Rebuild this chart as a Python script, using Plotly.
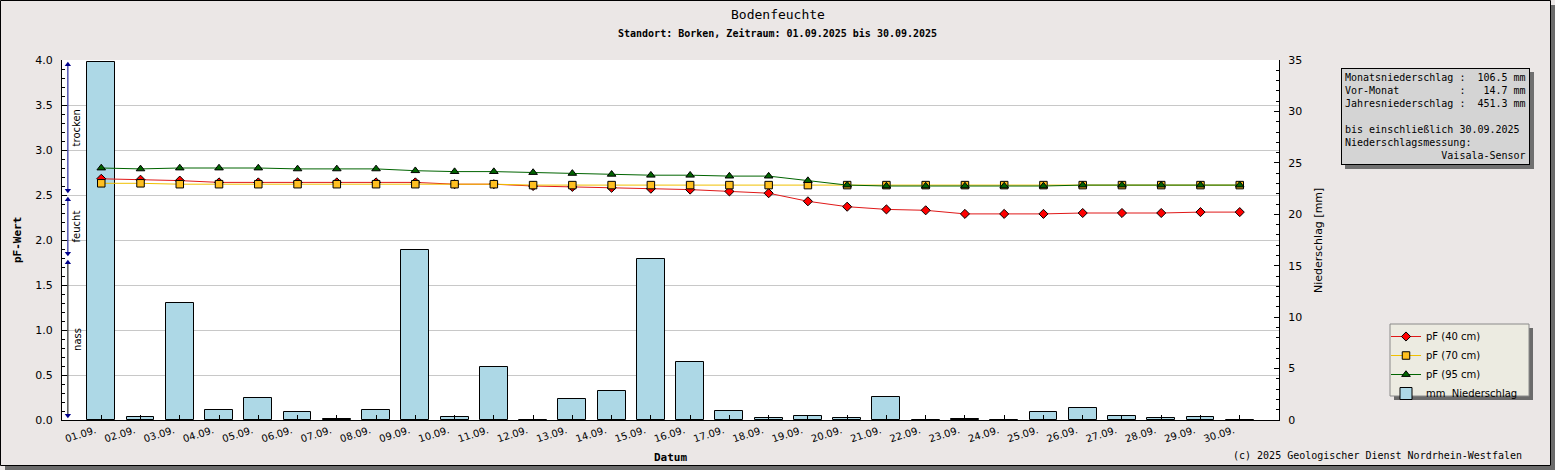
import plotly.graph_objects as go

# ---------------- data ----------------
days = list(range(1, 31))
date_labels = [f"{d:02d}.09." for d in days]

pf_40 = [2.68, 2.67, 2.66, 2.64, 2.64, 2.64, 2.64, 2.64, 2.64, 2.62,
         2.62, 2.60, 2.59, 2.58, 2.57, 2.56, 2.54, 2.52, 2.43, 2.37,
         2.34, 2.33, 2.29, 2.29, 2.29, 2.30, 2.30, 2.30, 2.31, 2.31]
pf_70 = [2.63, 2.63, 2.62, 2.62, 2.62, 2.62, 2.62, 2.62, 2.62, 2.62,
         2.62, 2.61, 2.61, 2.61, 2.61, 2.61, 2.61, 2.61, 2.61, 2.61,
         2.61, 2.61, 2.61, 2.61, 2.61, 2.61, 2.61, 2.61, 2.61, 2.61]
pf_95 = [2.80, 2.79, 2.80, 2.80, 2.80, 2.79, 2.79, 2.79, 2.77, 2.76,
         2.76, 2.75, 2.74, 2.73, 2.72, 2.72, 2.71, 2.71, 2.66, 2.61,
         2.60, 2.60, 2.60, 2.60, 2.60, 2.61, 2.61, 2.61, 2.61, 2.61]
rain_mm = [34.8, 0.3, 11.4, 1.0, 2.1, 0.8, 0.1, 1.0, 16.5, 0.3,
           5.2, 0.0, 2.0, 2.8, 15.7, 5.6, 0.9, 0.2, 0.4, 0.2,
           2.2, 0.0, 0.1, 0.0, 0.8, 1.2, 0.4, 0.2, 0.3, 0.0]

series_names = ["pF (40 cm)", "pF (70 cm)", "pF (95 cm)"]
rain_name = "mm\u00a0\u00a0Niederschlag"

zone_names = ["trocken", "feucht", "nass"]
zone_lo = [2.5, 1.8, 0.0]
zone_hi = [4.0, 2.5, 1.8]

info_lines = [
    "Monatsniederschlag :  106.5 mm",
    "Vor-Monat          :   14.7 mm",
    "Jahresniederschlag :  451.3 mm",
    "",
    "bis einschließlich 30.09.2025",
    "Niederschlagsmessung:",
    "                Vaisala-Sensor",
]

title_text = "Bodenfeuchte"
subtitle_text = "Standort: Borken, Zeitraum: 01.09.2025 bis 30.09.2025"
copyright_text = "(c) 2025 Geologischer Dienst Nordrhein-Westfalen"

# ---------------- layout geometry ----------------
W, H = 1555, 470
L, R, T, B = 62, 276, 60, 50
PW = W - L - R
PH = H - T - B


def px(x):
    return (x - L) / PW


def py(y):
    return (H - B - y) / PH


BG = "#ebe7e6"
MONO = "DejaVu Sans Mono"
SANS = "DejaVu Sans"

fig = go.Figure()
annotations = []

# precipitation bars (primary y, drawn underneath)
fig.add_trace(go.Bar(
    x=days, y=rain_mm, name=rain_name, yaxis="y",
    width=0.71,
    marker=dict(color="#add8e6", line=dict(color="#000000", width=1)),
    legendrank=4,
))

line_styles = [
    dict(line="#e01818", fill="#ff0000", symbol="diamond", size=7),
    dict(line="#f0c000", fill="#ffc020", symbol="square", size=7.5),
    dict(line="#006400", fill="#006400", symbol="triangle-up", size=7.5),
]
for i, (name, vals, st) in enumerate(zip(series_names, [pf_40, pf_70, pf_95], line_styles)):
    fig.add_trace(go.Scatter(
        x=days, y=vals, name=name, yaxis="y2", mode="lines+markers",
        line=dict(color=st["line"], width=1),
        marker=dict(symbol=st["symbol"], size=st["size"], color=st["fill"],
                    line=dict(color="#000000", width=1)),
        legendrank=i + 1, cliponaxis=False,
    ))

# moisture zones on the left
zone_x = 0.15
for name, lo, hi in zip(zone_names, zone_lo, zone_hi):
    lc = "#000000" if name == "nass" else "#00008b"
    fig.add_trace(go.Scatter(
        x=[zone_x, zone_x], y=[lo + 0.05, hi - 0.05], yaxis="y2",
        mode="lines+markers", showlegend=False, hoverinfo="skip",
        line=dict(color=lc, width=1),
        marker=dict(symbol=["triangle-down", "triangle-up"], size=5.5, color="#00008b"),
        cliponaxis=False,
    ))
    annotations.append(dict(x=0.38, y=(lo + hi) / 2, xref="x", yref="y2",
                            text=name, textangle=-90, showarrow=False,
                            font=dict(family=SANS, size=10, color="#000000")))

shapes = []
# outer frame shadow + border
shapes.append(dict(type="rect", xref="paper", yref="paper", layer="below",
                   x0=px(1551), x1=px(1556), y0=py(5), y1=py(471),
                   fillcolor="#6b6b6b", line=dict(width=0)))
shapes.append(dict(type="rect", xref="paper", yref="paper", layer="below",
                   x0=px(5), x1=px(1556), y0=py(466), y1=py(471),
                   fillcolor="#6b6b6b", line=dict(width=0)))
shapes.append(dict(type="rect", xref="paper", yref="paper", layer="below",
                   x0=px(0.5), x1=px(1550.5), y0=py(0.5), y1=py(465.5),
                   fillcolor="rgba(0,0,0,0)", line=dict(color="#000000", width=1)))
# info box shadow
shapes.append(dict(type="rect", xref="paper", yref="paper", layer="below",
                   x0=px(1345), x1=px(1534), y0=py(72), y1=py(169),
                   fillcolor="#707070", line=dict(width=0)))
# legend box shadow + box
shapes.append(dict(type="rect", xref="paper", yref="paper", layer="below",
                   x0=px(1394), x1=px(1533), y0=py(328), y1=py(400),
                   fillcolor="#6b6b6b", line=dict(width=0)))
shapes.append(dict(type="rect", xref="paper", yref="paper", layer="below",
                   x0=px(1390), x1=px(1529), y0=py(324), y1=py(396),
                   fillcolor="#ecebe1", line=dict(color="#8a8a8a", width=1)))

annotations += [
    dict(x=px(777.5), y=py(14), xref="paper", yref="paper", text=title_text,
         showarrow=False, xanchor="center", yanchor="middle",
         font=dict(family=MONO, size=13, color="#000000")),
    dict(x=px(777.5), y=py(33), xref="paper", yref="paper", text="<b>" + subtitle_text + "</b>",
         showarrow=False, xanchor="center", yanchor="middle",
         font=dict(family=MONO, size=10, color="#000000")),
    dict(x=px(17), y=py(240), xref="paper", yref="paper", text="<b>pF-Wert</b>",
         textangle=-90, showarrow=False, xanchor="center", yanchor="middle",
         font=dict(family=MONO, size=11, color="#000000")),
    dict(x=px(1318), y=py(241), xref="paper", yref="paper", text="Niederschlag [mm]",
         textangle=-90, showarrow=False, xanchor="center", yanchor="middle",
         font=dict(family=SANS, size=11, color="#000000")),
    dict(x=px(670), y=py(457), xref="paper", yref="paper", text="<b>Datum</b>",
         showarrow=False, xanchor="center", yanchor="middle",
         font=dict(family=MONO, size=11, color="#000000")),
    dict(x=px(1524), y=py(455), xref="paper", yref="paper", text=copyright_text,
         showarrow=False, xanchor="right", yanchor="middle",
         font=dict(family=MONO, size=10, color="#000000")),
    dict(x=px(1341), y=py(68), xref="paper", yref="paper",
         text="<br>".join(s.replace(" ", "\u00a0") if s else "\u00a0" for s in info_lines),
         showarrow=False, xanchor="left", yanchor="top", align="left",
         bgcolor="#d4d4d4", bordercolor="#000000", borderwidth=1, borderpad=3,
         font=dict(family=MONO, size=10, color="#000000")),
]

fig.update_layout(
    width=W, height=H,
    margin=dict(l=L, r=R, t=T, b=B, autoexpand=False),
    paper_bgcolor=BG, plot_bgcolor="#ffffff",
    showlegend=True,
    legend=dict(x=px(1386), y=py(322), xanchor="left", yanchor="top",
                xref="paper", yref="paper",
                bgcolor="rgba(0,0,0,0)", borderwidth=0,
                font=dict(family=SANS, size=10, color="#000000"),
                itemwidth=30, tracegroupgap=0),
    bargap=0,
    xaxis=dict(range=[0, 31], tickmode="array", tickvals=days, ticktext=date_labels,
               tickangle=-18, ticks="inside", ticklen=5, tickcolor="#000000",
               showline=True, linecolor="#000000", linewidth=1,
               showgrid=False, zeroline=False,
               tickfont=dict(family=SANS, size=10, color="#000000"),
               ticklabelshift=-6),
    yaxis=dict(side="right", range=[0, 35], dtick=5, tick0=0,
               ticks="inside", ticklen=5, tickcolor="#000000",
               minor=dict(dtick=1, ticks="inside", ticklen=3, tickcolor="#000000", showgrid=False),
               showline=True, linecolor="#000000", linewidth=1,
               showgrid=False, zeroline=False, ticklabelstandoff=6,
               tickfont=dict(family=SANS, size=11, color="#000000")),
    yaxis2=dict(side="left", overlaying="y", range=[0, 4], dtick=0.5, tick0=0,
                tickformat=".1f",
                ticks="inside", ticklen=5, tickcolor="#000000",
                minor=dict(dtick=0.1, ticks="inside", ticklen=3, tickcolor="#000000", showgrid=False),
                showline=True, linecolor="#000000", linewidth=1,
                showgrid=True, gridcolor="#c8c8c8", gridwidth=1, zeroline=False,
                ticklabelstandoff=6,
                tickfont=dict(family=SANS, size=11, color="#000000")),
    shapes=shapes,
    annotations=annotations,
)

fig.write_html("out.html",
               config={"displayModeBar": False},
               post_script="document.body.style.margin='0px';document.body.style.overflow='hidden';")
